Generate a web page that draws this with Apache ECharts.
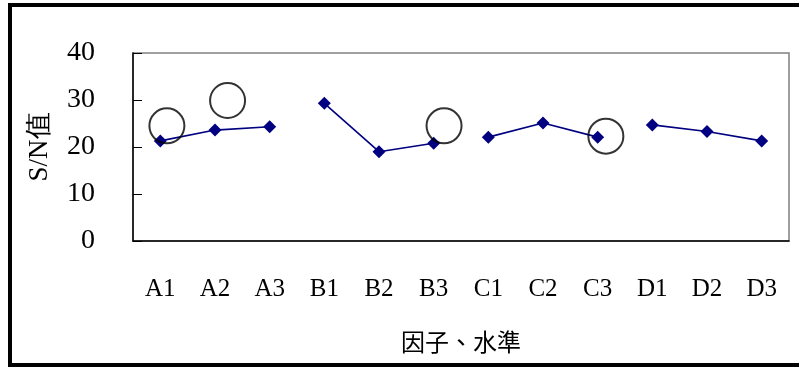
<!DOCTYPE html>
<html>
<head>
<meta charset="utf-8">
<script src="https://cdn.jsdelivr.net/npm/echarts@6/dist/echarts.min.js"></script>
<style>
  html, body { margin: 0; padding: 0; background: #fff; }
  #frame { position: absolute; left: 8px; top: 3px; width: 820px; height: 356px; border: 4px solid #000; }
  #main { position: absolute; left: 0; top: 0; width: 799px; height: 367px; }
</style>
</head>
<body>
<div id="frame"></div>
<div id="main"></div>
<script>
// 因子水準
const categories = ['A1', 'A2', 'A3', 'B1', 'B2', 'B3', 'C1', 'C2', 'C3', 'D1', 'D2', 'D3'];
const groupA = [21.3, 23.6, 24.3];
const groupB = [29.3, 19.0, 20.8];
const groupC = [22.1, 25.1, 22.1];
const groupD = [24.7, 23.3, 21.3];
const yTicks = [0, 10, 20, 30, 40];
// 標記的圓圈 [x(類別單位), y]
const circleMarks = [[0.62, 24.5], [1.73, 29.9], [5.69, 24.5], [8.65, 22.3]];

const serif = '"Liberation Serif", "DejaVu Serif", serif';
const cjk = '"Noto Sans CJK TC", "Noto Sans CJK SC", sans-serif';

// 每組只在自己的三個位置有值
const padGroup = (vals, start) => categories.map((c, i) =>
  i >= start && i < start + vals.length ? vals[i - start] : '-');

const lineSeries = [groupA, groupB, groupC, groupD].map((g, k) => ({
  type: 'line',
  data: padGroup(g, k * 3),
  symbol: 'diamond',
  symbolSize: 13,
  color: '#000080',
  lineStyle: { color: '#000080', width: 1.6 },
  itemStyle: { color: '#000080' },
  connectNulls: false,
  z: 3
}));

const chart = echarts.init(document.getElementById('main'));
chart.setOption({
  animation: false,
  grid: {
    left: 133, right: 10, top: 53, bottom: 126,
    show: true, borderColor: '#808080', borderWidth: 1.5
  },
  xAxis: [{
    type: 'category',
    data: categories,
    boundaryGap: true,
    axisLine: { lineStyle: { color: '#000', width: 1.5 } },
    axisTick: { show: false },
    axisLabel: { color: '#000', fontFamily: serif, fontSize: 25, margin: 36 },
    name: '因子、水準',
    nameLocation: 'middle',
    nameGap: 89,
    nameTextStyle: { color: '#000', fontFamily: cjk, fontSize: 24 }
  }, {
    type: 'value',
    min: 0, max: 12,
    show: false
  }],
  yAxis: {
    type: 'value',
    min: 0, max: 40, interval: 10,
    axisLine: { show: true, lineStyle: { color: '#000', width: 1.5 } },
    axisTick: { show: true, inside: true, length: 9, lineStyle: { color: '#000' } },
    splitLine: { show: false },
    axisLabel: {
      color: '#000', fontFamily: serif, fontSize: 28, margin: 38,
      formatter: v => yTicks.includes(v) ? String(v) : ''
    },
    name: 'S/N值',
    nameLocation: 'middle',
    nameRotate: 90,
    nameGap: 80,
    nameTextStyle: { color: '#000', fontFamily: serif, fontSize: 27 }
  },
  series: lineSeries.concat([{
    type: 'scatter',
    xAxisIndex: 1,
    data: circleMarks,
    symbol: 'circle',
    symbolSize: 35,
    itemStyle: { color: 'rgba(0,0,0,0)', borderColor: '#000', borderWidth: 2 },
    z: 4
  }])
});
</script>
</body>
</html>
